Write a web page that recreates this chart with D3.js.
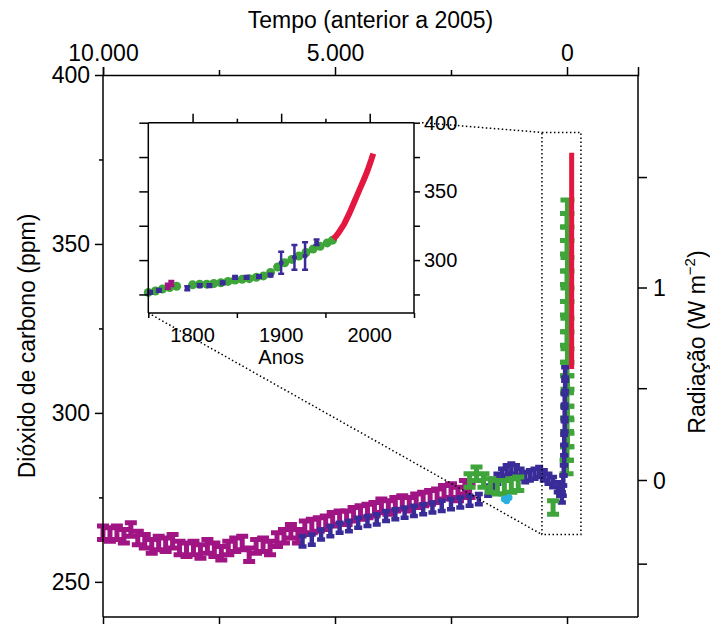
<!DOCTYPE html>
<html>
<head>
<meta charset="utf-8">
<script src="https://cdn.jsdelivr.net/npm/d3@7"></script>
<style>
  body { margin: 0; background: #fff; }
  svg text { font-family: "Liberation Sans", Arial, sans-serif; fill: #000; }
  .axis path, .axis line { stroke: #000; stroke-width: 1.5; }
</style>
</head>
<body>
<svg id="chart" width="710" height="624"></svg>
<script>
// ---- data (main: years before 2005, CO2 ppm) ----
const magYears = [10000, 9850, 9700, 9550, 9400, 9250, 9100, 8950, 8800, 8650, 8500, 8350, 8200, 8050, 7900, 7750, 7600, 7450, 7300, 7150, 7000, 6850, 6700, 6550, 6400, 6250, 6100, 5950, 5800, 5650, 5500, 5350, 5200, 5050, 4900, 4750, 4600, 4450, 4300, 4150, 4000, 3850, 3700, 3550, 3400, 3250, 3100, 2950, 2800, 2650, 2500, 2350, 2200, 2100]
const magCO2 = [264.5, 264, 264.5, 263.5, 265.5, 263, 262, 260.5, 261.5, 261, 262, 260, 259.5, 260, 259, 260.5, 259.5, 258.5, 260, 261, 261.5, 258, 260.5, 261, 260, 262.5, 263.5, 265, 263.5, 266, 266.5, 267, 267.5, 268.5, 269, 269, 270, 270.5, 271, 271.5, 272.5, 272, 273, 273.5, 273, 274, 274.5, 275, 275.5, 276.5, 277, 276, 278, 277]

const blueYears = [5700, 5500, 5300, 5100, 4900, 4700, 4500, 4300, 4100, 3900, 3700, 3500, 3300, 3100, 2900, 2700, 2500, 2300, 2100, 1900,
  1700, 1600, 1500, 1400, 1300, 1200, 1100, 1000, 900, 800, 700, 600, 500, 400, 300, 200, 150,
  110, 90, 80, 70, 60, 60, 60, 50, 50, 50, 40, 40]
const blueCO2 = [262, 262.5, 264, 265, 266, 266.5, 267.5, 268, 268.5, 269.5, 270, 270.5, 271, 271.5, 272, 272.5, 273, 273.5, 274, 274.5,
  277, 279, 280.5, 282, 283, 283.5, 283, 282, 281, 281.5, 282, 282.5, 281.5, 280.5, 279.5, 278, 277,
  275, 277, 280, 283, 286, 289, 292, 296, 300, 304, 308, 312]

const greenBumpYears = [2100, 1950, 1800, 1650, 1500, 1350, 1200, 1050, 300]
const greenBumpCO2 = [280, 282, 280, 278.5, 278, 278, 278.5, 279, 272]
const greenColYears = [10, 0, -10, 0, -10, 0, -10, 0, -10, 0, -10, 0, -10, 0, -10, 0, -10, 0, -10]
const greenColCO2 = [284, 288, 292, 296.5, 300, 304, 309, 313, 317, 322, 326, 331, 335, 340, 344, 349, 353, 357, 361]

const cyanYears = [1350, 1300, 1250]
const cyanCO2 = [274.5, 274, 275]

const redYears = [-100, -100, -100, -100, -100, -100, -100, -100]
const redCO2 = [313, 320, 328, 337, 346, 355, 366, 377]

// ---- inset data (calendar years, CO2 ppm) ----
const insGreenYears = [1750, 1758, 1766, 1774, 1782, 1800, 1808, 1816, 1824, 1832, 1840, 1848, 1856, 1864, 1872, 1880, 1888, 1896, 1904, 1912, 1920, 1928, 1936, 1944, 1952, 1958]
const insGreenCO2 = [276.5, 277.5, 279, 280, 281, 282, 282.5, 282.5, 283, 283.5, 284.5, 285.5, 286, 286.5, 287.5, 288.5, 291, 295, 298, 300.5, 303, 305.5, 308, 310, 312.5, 314.5]
const insBlueYears = [1752, 1762, 1794, 1808, 1819, 1834, 1848, 1861, 1875, 1888, 1900, 1915, 1927, 1940]
const insBlueCO2 = [276.5, 278, 279.5, 281.5, 281.5, 283.5, 287.5, 287.5, 288, 289, 298, 302, 303, 313]
const insBlueErr = [1, 1, 1.5, 1, 1, 1, 1, 1, 1, 1, 8, 9, 10, 2]
const insMagYears = [1772, 1776]
const insMagCO2 = [281, 283]
const insRedYears = [1959, 1962, 1965, 1968, 1971, 1974, 1977, 1980, 1983, 1986, 1989, 1992, 1995, 1998, 2001, 2004]
const insRedCO2 = [315.5, 317.5, 320, 323, 326, 330, 334, 338.5, 343, 347.5, 352, 356.5, 361, 366, 371.5, 377.5]

const radTicks = [-0.5, 0, 0.5, 1, 1.5]
const radLabels = [0, 1]

// ---- layout ----
const svg = d3.select("#chart")
const L = 103, R = 638, T = 75, B = 617

const x = d3.scaleLinear().domain([10000, -1530]).range([L, R])
const y = d3.scaleLinear().domain([239.6, 400]).range([B, T])

const xi = d3.scaleLinear().domain([1750, 2050]).range([148.3, 414])
const yi = d3.scaleLinear().domain([261.5, 400]).range([313, 122.7])

const col = { mag: "#a01583", blue: "#3a2c98", green: "#3fa53a", cyan: "#2ab0e0", red: "#e3173f" }

function ibar(sx, sy, xv, yv, e, w) {
  const cx = sx(xv), y1 = sy(yv - e), y2 = sy(yv + e)
  return `M${cx - w},${y1}H${cx + w}M${cx},${y1}V${y2}M${cx - w},${y2}H${cx + w}`
}

// ---- main plot marks ----
const main = svg.append("g")

main.selectAll(".mag").data(magYears).join("path")
  .attr("d", (d, i) => ibar(x, y, d, magCO2[i], 2, 6))
  .attr("stroke", col.mag).attr("stroke-width", 5).attr("fill", "none")

main.selectAll(".grc").data(greenColYears).join("path")
  .attr("d", (d, i) => ibar(x, y, d, greenColCO2[i], 2, 7))
  .attr("stroke", col.green).attr("stroke-width", 5).attr("fill", "none")

main.selectAll(".blu").data(blueYears).join("path")
  .attr("d", (d, i) => ibar(x, y, d, blueCO2[i], 1.5, 4))
  .attr("stroke", col.blue).attr("stroke-width", 4.5).attr("fill", "none")

main.selectAll(".grb").data(greenBumpYears).join("path")
  .attr("d", (d, i) => ibar(x, y, d, greenBumpCO2[i], 2, 6))
  .attr("stroke", col.green).attr("stroke-width", 5).attr("fill", "none")

main.selectAll(".cy").data(cyanYears).join("circle")
  .attr("cx", d => x(d)).attr("cy", (d, i) => y(cyanCO2[i])).attr("r", 3.5)
  .attr("fill", col.cyan)

main.append("path")
  .datum(redYears.map((d, i) => [d, redCO2[i]]))
  .attr("d", d3.line().x(d => x(d[0])).y(d => y(d[1])))
  .attr("stroke", col.red).attr("stroke-width", 5).attr("fill", "none")

// ---- main axes ----
const topAxis = d3.axisTop(x).tickValues([10000, 5000, 0]).tickSize(8).tickPadding(6)
  .tickFormat(d => d3.format(",")(d).replace(/,/g, "."))
svg.append("g").attr("class", "axis").attr("transform", `translate(0,${T})`).call(topAxis)
  .call(g => g.selectAll("text").attr("font-size", 23))
svg.append("g").attr("class", "axis").attr("transform", `translate(0,${T})`)
  .call(d3.axisTop(x).tickValues([7500, 2500]).tickSize(5).tickFormat(""))
  .call(g => g.select(".domain").remove())

svg.append("g").attr("class", "axis").attr("transform", `translate(0,${B})`)
  .call(d3.axisBottom(x).tickValues([10000, 7500, 5000, 2500, 0]).tickSize(7).tickFormat(""))
  .call(g => g.select(".domain").attr("d", `M${L},0H${R}`))

svg.append("g").attr("class", "axis").attr("transform", `translate(${L},0)`)
  .call(d3.axisLeft(y).tickValues([250, 300, 350, 400]).tickSize(8).tickPadding(5))
  .call(g => g.selectAll("text").attr("font-size", 23))
  .call(g => g.select(".domain").attr("d", `M0,${T}V${B}`))
svg.append("g").attr("class", "axis").attr("transform", `translate(${L},0)`)
  .call(d3.axisLeft(y).tickValues([275, 325, 375]).tickSize(4).tickFormat(""))
  .call(g => g.select(".domain").remove())

// right radiation axis (forcing = k ln(C/C0))
const C0 = 280, kF = 5.4
const yRad = f => y(C0 * Math.exp(f / kF))
const rg = svg.append("g").attr("class", "axis")
rg.append("line").attr("x1", R).attr("x2", R).attr("y1", T).attr("y2", B)
rg.selectAll(".rt").data(radTicks).join("line")
  .attr("x1", R).attr("x2", R + 9).attr("y1", yRad).attr("y2", yRad)
rg.selectAll(".rl").data(radLabels).join("text")
  .attr("x", R + 15).attr("y", yRad).attr("dy", "0.35em").attr("font-size", 23).text(d => d)

// titles
svg.append("text").attr("x", (L + R) / 2).attr("y", 28).attr("text-anchor", "middle")
  .attr("font-size", 23).text("Tempo (anterior a 2005)")
svg.append("text").attr("transform", `translate(35,${(T + B) / 2}) rotate(-90)`)
  .attr("text-anchor", "middle").attr("font-size", 23).text("Dióxido de carbono (ppm)")
const rt = svg.append("text").attr("transform", `translate(705,${(T + B) / 2 - 4}) rotate(-90)`)
  .attr("text-anchor", "middle").attr("font-size", 23)
rt.append("tspan").text("Radiação (W m")
rt.append("tspan").attr("font-size", 15).attr("dy", -10).text("−2")
rt.append("tspan").attr("dy", 10).text(")")

// ---- zoom box and connectors ----
const boxX = [540, -300], boxY = [383, 264]
const dots = svg.append("g").attr("fill", "none").attr("stroke", "#000")
  .attr("stroke-width", 1.5).attr("stroke-dasharray", "1.5,2.5")
dots.append("rect").attr("x", x(boxX[0])).attr("y", y(boxY[0]))
  .attr("width", x(boxX[1]) - x(boxX[0])).attr("height", y(boxY[1]) - y(boxY[0]))
dots.append("line").attr("x1", xi(2050) + 8).attr("y1", yi(400)).attr("x2", x(boxX[0])).attr("y2", y(boxY[0]))
dots.append("line").attr("x1", xi(1750)).attr("y1", yi(261.5)).attr("x2", x(boxX[0])).attr("y2", y(boxY[1]))

// ---- inset ----
const ins = svg.append("g")
ins.append("rect").attr("x", xi(1750)).attr("y", yi(400))
  .attr("width", xi(2050) - xi(1750)).attr("height", yi(261.5) - yi(400)).attr("fill", "#fff")

ins.selectAll(".ig").data(insGreenYears).join("circle")
  .attr("cx", d => xi(d)).attr("cy", (d, i) => yi(insGreenCO2[i])).attr("r", 4.5)
  .attr("fill", col.green)
ins.selectAll(".im").data(insMagYears).join("path")
  .attr("d", (d, i) => ibar(xi, yi, d, insMagCO2[i], 1.5, 3))
  .attr("stroke", col.mag).attr("stroke-width", 3.5).attr("fill", "none")
ins.selectAll(".ib").data(insBlueYears).join("path")
  .attr("d", (d, i) => ibar(xi, yi, d, insBlueCO2[i], insBlueErr[i], 3))
  .attr("stroke", col.blue).attr("stroke-width", 2.5).attr("fill", "none")
ins.selectAll(".ibd").data(insBlueYears).join("circle")
  .attr("cx", d => xi(d)).attr("cy", (d, i) => yi(insBlueCO2[i])).attr("r", 2.5)
  .attr("fill", col.blue)
ins.append("path")
  .datum(insRedYears.map((d, i) => [d, insRedCO2[i]]))
  .attr("d", d3.line().x(d => xi(d[0])).y(d => yi(d[1])))
  .attr("stroke", col.red).attr("stroke-width", 6).attr("fill", "none")

ins.append("g").attr("class", "axis").attr("transform", `translate(${xi(1750)},0)`)
  .call(d3.axisLeft(yi).tickValues([275, 300, 325, 350, 375, 400]).tickSize(9).tickFormat(""))
  .call(g => g.select(".domain").attr("d", `M0,${yi(400)}V${yi(261.5)}`))
ins.append("g").attr("class", "axis").attr("transform", `translate(${xi(2050)},0)`)
  .call(d3.axisRight(yi).tickValues([275, 300, 325, 350, 375, 400]).tickSize(6).tickPadding(4)
    .tickFormat(d => d % 50 === 0 ? d : ""))
  .call(g => g.selectAll("text").attr("font-size", 20))
  .call(g => g.select(".domain").attr("d", `M0,${yi(400)}V${yi(261.5)}`))
ins.append("g").attr("class", "axis").attr("transform", `translate(0,${yi(400)})`)
  .call(d3.axisTop(xi).tickValues([1800, 1900, 2000]).tickSize(9).tickFormat(""))
  .call(g => g.select(".domain").attr("d", `M${xi(1750)},0H${xi(2050)}`))
ins.append("g").attr("class", "axis").attr("transform", `translate(0,${yi(400)})`)
  .call(d3.axisTop(xi).tickValues([1850, 1950]).tickSize(4).tickFormat(""))
  .call(g => g.select(".domain").remove())
ins.append("g").attr("class", "axis").attr("transform", `translate(0,${yi(261.5)})`)
  .call(d3.axisBottom(xi).tickValues([1750, 1850, 1950, 2050]).tickSize(5).tickFormat(""))
  .call(g => g.select(".domain").attr("d", `M${xi(1750)},0H${xi(2050)}`))
ins.selectAll(".xl").data([1800, 1900, 2000]).join("text")
  .attr("x", d => xi(d)).attr("y", 342).attr("text-anchor", "middle").attr("font-size", 20).text(d => d)
ins.append("text").attr("x", xi(1900)).attr("y", 364).attr("text-anchor", "middle")
  .attr("font-size", 20).text("Anos")
</script>
</body>
</html>
